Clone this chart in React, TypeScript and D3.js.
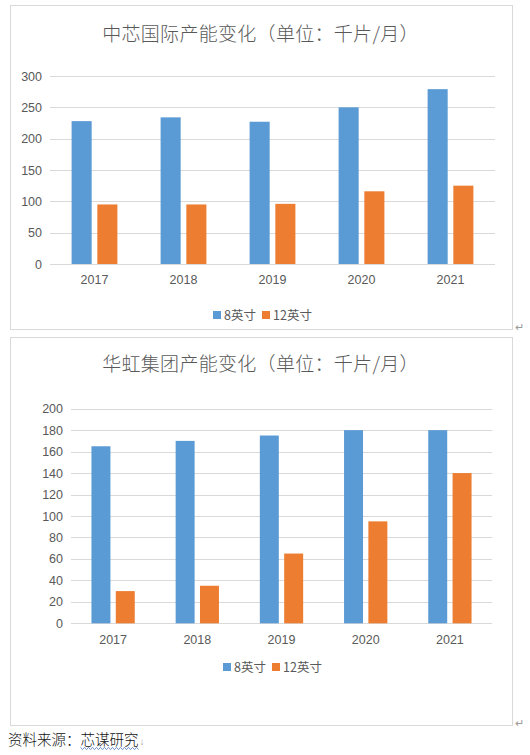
import React, { useEffect, useRef } from 'react';
import * as d3 from 'd3';

const years = ['2017', '2018', '2019', '2020', '2021'];
const seriesNames = ['8英寸', '12英寸'];
const colors = ['#5b9bd5', '#ed7d31'];

// 中芯国际
const smic8 = [228, 234, 227, 250, 279];
const smic12 = [95, 95, 96, 116, 125];
const smicTicks = [0, 50, 100, 150, 200, 250, 300];

// 华虹集团
const hh8 = [165, 170, 175, 180, 180];
const hh12 = [30, 35, 65, 95, 140];
const hhTicks = [0, 20, 40, 60, 80, 100, 120, 140, 160, 180, 200];

const cjk = '"Noto Sans CJK SC", sans-serif';
const latin = '"Liberation Sans", Arial, sans-serif';

interface PanelSpec {
  title: string;
  values: number[][];
  ticks: number[];
  frame: { x: number; y: number; w: number; h: number };
  plot: { left: number; right: number; top: number; bottom: number };
  titleY: number;
  xLabelY: number;
  legendY: number;
  legendX: number;
}

const panels: PanelSpec[] = [
  {
    title: '中芯国际产能变化（单位：千片/月）',
    values: [smic8, smic12],
    ticks: smicTicks,
    frame: { x: 10.5, y: 5.5, w: 502, h: 324 },
    plot: { left: 50, right: 495, top: 76, bottom: 264 },
    titleY: 41,
    xLabelY: 284,
    legendY: 315,
    legendX: 213,
  },
  {
    title: '华虹集团产能变化（单位：千片/月）',
    values: [hh8, hh12],
    ticks: hhTicks,
    frame: { x: 10.5, y: 337.5, w: 502, h: 388 },
    plot: { left: 71, right: 492, top: 408.7, bottom: 623.3 },
    titleY: 371,
    xLabelY: 644,
    legendY: 667,
    legendX: 223,
  },
];

const App: React.FC = () => {
  const svgRef = useRef<SVGSVGElement | null>(null);

  useEffect(() => {
    if (!svgRef.current) return;
    const svg = d3.select(svgRef.current);
    svg.selectAll('*').remove();

    svg.append('rect').attr('width', 530).attr('height', 755).attr('fill', '#fff');

    panels.forEach(p => {
      const g = svg.append('g');

      g.append('rect')
        .attr('x', p.frame.x).attr('y', p.frame.y)
        .attr('width', p.frame.w).attr('height', p.frame.h)
        .attr('fill', '#fff').attr('stroke', '#d9d9d9');

      g.append('text')
        .attr('x', (p.frame.x * 2 + p.frame.w) / 2 - 1)
        .attr('y', p.titleY)
        .attr('text-anchor', 'middle')
        .attr('font-family', cjk)
        .attr('font-size', 19)
        .attr('font-weight', 300)
        .attr('letter-spacing', 0.3)
        .attr('fill', '#595959')
        .text(p.title);

      const y = d3.scaleLinear()
        .domain([0, d3.max(p.ticks) || 0])
        .range([p.plot.bottom, p.plot.top]);

      const x0 = d3.scaleBand<string>()
        .domain(years)
        .range([p.plot.left, p.plot.right]);

      const x1 = d3.scaleBand<number>()
        .domain(d3.range(seriesNames.length))
        .range([0, x0.bandwidth()])
        .paddingInner(0.22)
        .paddingOuter(0.84);

      // gridlines
      g.append('g')
        .selectAll('line')
        .data(p.ticks)
        .join('line')
        .attr('x1', p.plot.left).attr('x2', p.plot.right)
        .attr('y1', d => Math.round(y(d)) + 0.5).attr('y2', d => Math.round(y(d)) + 0.5)
        .attr('stroke', '#d9d9d9');

      // y labels
      g.append('g')
        .selectAll('text')
        .data(p.ticks)
        .join('text')
        .attr('x', p.plot.left - 8)
        .attr('y', d => y(d) + 4.5)
        .attr('text-anchor', 'end')
        .attr('font-family', latin)
        .attr('font-size', 12.5)
        .attr('fill', '#595959')
        .text(d => d);

      // bars
      p.values.forEach((vals, si) => {
        g.append('g')
          .selectAll('rect')
          .data(vals)
          .join('rect')
          .attr('x', (_, i) => (x0(years[i]) || 0) + (x1(si) || 0))
          .attr('y', d => y(d))
          .attr('width', x1.bandwidth())
          .attr('height', d => y(0) - y(d))
          .attr('fill', colors[si]);
      });

      // x labels
      g.append('g')
        .selectAll('text')
        .data(years)
        .join('text')
        .attr('x', d => (x0(d) || 0) + x0.bandwidth() / 2)
        .attr('y', p.xLabelY)
        .attr('text-anchor', 'middle')
        .attr('font-family', latin)
        .attr('font-size', 12.5)
        .attr('fill', '#595959')
        .text(d => d);

      // legend
      const lg = g.append('g').attr('transform', `translate(${p.legendX},${p.legendY})`);
      const offsets = [0, 49];
      seriesNames.forEach((name, si) => {
        lg.append('rect')
          .attr('x', offsets[si]).attr('y', -4)
          .attr('width', 8).attr('height', 8)
          .attr('fill', colors[si]);
        lg.append('text')
          .attr('x', offsets[si] + 11)
          .attr('y', 4.5)
          .attr('font-family', cjk)
          .attr('font-size', 12.5)
          .attr('fill', '#595959')
          .text(name);
      });

      // paragraph mark
      g.append('text')
        .attr('x', 515).attr('y', p.frame.y + p.frame.h + 1)
        .attr('font-family', latin)
        .attr('font-size', 11)
        .attr('fill', '#9a9a9a')
        .text('↵');
    });

    // source note
    const src = svg.append('g');
    src.append('text')
      .attr('x', 8).attr('y', 745)
      .attr('font-family', cjk)
      .attr('font-size', 14.5)
      .attr('font-weight', 300)
      .attr('fill', '#111')
      .text('资料来源：芯谋研究');
    const startX = 8 + 14.5 * 5;
    const endX = startX + 14.5 * 4;
    const wave = d3.range(startX, endX + 0.1, 2).map((px, i) => [px, 748.5 + (i % 2 ? 1.2 : -1.2)] as [number, number]);
    src.append('path')
      .attr('d', d3.line()(wave) || '')
      .attr('fill', 'none')
      .attr('stroke', '#5a7fc0')
      .attr('stroke-width', 0.8);
    src.append('text')
      .attr('x', endX + 1).attr('y', 745)
      .attr('font-family', latin)
      .attr('font-size', 10)
      .attr('fill', '#aaa')
      .text('↓');
  }, []);

  return (
    <svg
      ref={svgRef}
      width={530}
      height={755}
      style={{ position: 'absolute', left: 0, top: 0 }}
    />
  );
};

export default App;
